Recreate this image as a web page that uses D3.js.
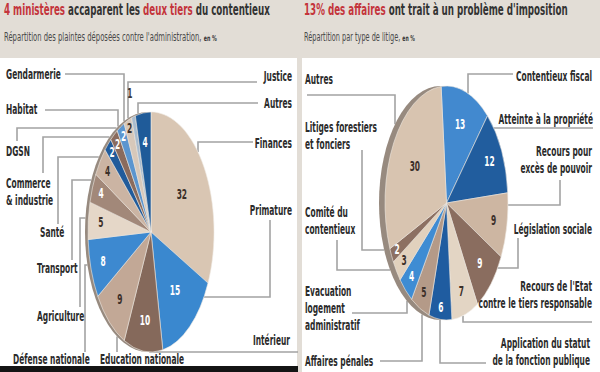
<!DOCTYPE html>
<html>
  <head>
    <meta charset="utf-8" />
    <title>Contentieux administratif</title>
    <script src="https://d3js.org/d3.v7.min.js"></script>
    <style>
      body { margin: 0; background: #fff; }
      svg text { font-family: "Liberation Sans Narrow", "DejaVu Sans Condensed", sans-serif; font-weight: bold; }
    </style>
  </head>
  <body>
    <svg id="chart" width="600" height="372"></svg>

    <script>
      // ---- data (clockwise from 12 o'clock) ----
      var leftCategories = ["Finances", "Primature", "Intérieur", "Education nationale", "Défense nationale",
        "Agriculture", "Transport", "Santé", "Commerce|& industrie", "DGSN", "Habitat", "Gendarmerie",
        "Justice", "Autres"];
      var leftValues = [32, 15, 10, 9, 8, 5, 4, 4, 2, 2, 2, 2, 1, 4];

      var rightCategories = ["Contentieux fiscal", "Atteinte à la propriété", "Recours pour|excès de pouvoir",
        "Législation sociale", "Recours de l'Etat|contre le tiers responsable",
        "Application du statut|de la fonction publique", "Affaires pénales",
        "Evacuation|logement|administratif", "Comité du|contentieux", "Litiges forestiers|et fonciers", "Autres"];
      var rightValues = [13, 12, 9, 9, 7, 6, 5, 4, 3, 2, 30];

      // ---- colours ----
      var leftColors = ["#d9c6b3", "#3a88cf", "#85695b", "#c2a896", "#3d89d0", "#e5d7c8", "#a28879",
        "#cbb4a3", "#215b9b", "#8a6b5d", "#5b95cf", "#d7c8ba", "#a9bccf", "#1f5b99"];
      var rightColors = ["#4289cf", "#215d9e", "#cdb6a2", "#8a6d5f", "#e3d5c4", "#1f5ca0", "#b49a88",
        "#3e8cd3", "#e1d1bd", "#8c7062", "#d8c4b0"];

      // ---- layout ----
      var leftPie = { cx: 151, cy: 232, rx: 63, ry: 120, rim: 3, start: 0 };
      var rightPie = { cx: 446.5, cy: 203, rx: 61.5, ry: 117, rim: 6, start: -5 };

      // radius factor for the value inside each slice
      var leftValuePos = [0.58, 0.62, 0.75, 0.75, 0.8, 0.8, 0.85, 0.85, 0.9, 0.9, 0.9, 0.92, 1.2, 0.75];
      var rightValuePos = [0.7, 0.78, 0.78, 0.75, 0.8, 0.9, 0.85, 0.85, 0.85, 0.9, 0.6];

      var leftLabels = [
        { x: 292, y: 148, a: "end", lead: { x: 253, y: 142, type: "hv", to: 198 } },
        { x: 292, y: 215, a: "end", lead: { x: 270, y: 220, type: "vh", to: 297 } },
        { x: 290, y: 345, a: "end", lead: { x: 298, y: 352, type: "hv", to: 150 } },
        { x: 100, y: 364, a: "start", lead: { x: 117, y: 352, type: "v" } },
        { x: 13, y: 364, a: "start", lead: { x: 85, y: 352, type: "vh", to: 265 } },
        { x: 37, y: 321, a: "start", lead: { x: 80, y: 307, type: "vh", to: 218 } },
        { x: 37, y: 273, a: "start", lead: { x: 72, y: 260, type: "vh", to: 180 } },
        { x: 40, y: 237, a: "start", lead: { x: 58, y: 224, type: "vh", to: 157 } },
        { x: 6, y: 188, a: "start", lead: { x: 43, y: 173, type: "vh", to: 137 } },
        { x: 6, y: 156, a: "start", lead: { x: 17, y: 141, type: "vh", to: 128 } },
        { x: 6, y: 114, a: "start", lead: { x: 45, y: 110, type: "hv", to: 118 } },
        { x: 6, y: 79, a: "start", lead: { x: 65, y: 74, type: "hv", to: 124 } },
        { x: 292, y: 81, a: "end", lead: { x: 257, y: 82, type: "hv", to: 128 } },
        { x: 292, y: 108, a: "end", lead: { x: 258, y: 103, type: "hv", to: 138 } }
      ];
      var rightLabels = [
        { x: 592, y: 81, a: "end", lead: { x: 513, y: 74, type: "hv", to: 468 } },
        { x: 593, y: 124, a: "end", lead: { x: 593, y: 128, type: "h" } },
        { x: 592, y: 156, a: "end", lead: { x: 560, y: 180, type: "vh", to: 205 } },
        { x: 592, y: 234, a: "end", lead: { x: 518, y: 238, type: "vh", to: 268 } },
        { x: 592, y: 291, a: "end", lead: { x: 592, y: 322, type: "hv", to: 463 } },
        { x: 590, y: 348, a: "end", lead: { x: 486, y: 363, type: "hv", to: 440 } },
        { x: 305, y: 366, a: "start", lead: { x: 380, y: 361, type: "hv", to: 422 } },
        { x: 305, y: 296, a: "start", lead: { x: 352, y: 313, type: "hv", to: 407 } },
        { x: 305, y: 217, a: "start", lead: { x: 337, y: 240, type: "vh", to: 270 } },
        { x: 305, y: 132, a: "start", lead: { x: 362, y: 150, type: "vh", to: 250 } },
        { x: 305, y: 84, a: "start", lead: { x: 307, y: 95, type: "hv", to: 395 } }
      ];

      var svg = d3.select("#chart");

      // background + panels
      svg.append("rect").attr("width", 600).attr("height", 372).attr("fill", "#e2ddd6");
      svg.append("rect").attr("x", 0).attr("y", 58).attr("width", 297).attr("height", 314).attr("fill", "#fff");
      svg.append("rect").attr("x", 302).attr("y", 58).attr("width", 298).attr("height", 314).attr("fill", "#fff");

      // the print uses a very narrow face: squeeze ours so "Contentieux fiscal" is 76px wide
      var labelSize = 13.5;
      var probe = svg.append("text").attr("font-size", labelSize).text("Contentieux fiscal");
      var squeeze = 76 / probe.node().getComputedTextLength();
      probe.remove();

      // titles, squeezed to the width they take in the print
      function title(x, y, parts, width, size) {
        var t = svg.append("text").attr("transform", "translate(" + x + "," + y + ")")
          .attr("font-size", size);
        parts.forEach(function (p) {
          t.append("tspan").text(p.t).attr("fill", p.c || "#333")
            .attr("font-size", p.s || null).attr("font-weight", p.w || null);
        });
        var len = t.node().getComputedTextLength();
        t.attr("transform", "translate(" + x + "," + y + ") scale(" + (width / len) + ",1)");
      }
      title(4, 15, [{ t: "4 ministères ", c: "#c4343b" }, { t: "accaparent les " },
        { t: "deux tiers", c: "#c4343b" }, { t: " du contentieux" }], 266, 16);
      title(304, 15, [{ t: "13% des affaires ", c: "#c4343b" }, { t: "ont trait à un problème d'imposition" }], 264, 16);
      title(4, 41, [{ t: "Répartition des plaintes déposées contre l'administration, ", c: "#4a4a4a", w: "normal" },
        { t: "en %", s: 8, c: "#333" }], 213, 11.5);
      title(304, 41, [{ t: "Répartition par type de litige, ", c: "#4a4a4a", w: "normal" },
        { t: "en %", s: 8, c: "#333" }], 111, 11.5);

      // where a straight leader meets the pie outline (rim included on the left)
      function edgeY(p, x, y0) {
        var k1 = (x - p.cx) / p.rx, k2 = (x - p.cx + p.rim) / p.rx;
        var dy = p.ry * Math.sqrt(Math.max(0, 1 - k1 * k1, 1 - k2 * k2));
        return y0 < p.cy ? p.cy - dy : p.cy + dy;
      }
      function edgeX(p, y, x0) {
        var k = (y - p.cy) / p.ry, s = Math.sqrt(Math.max(0, 1 - k * k));
        return x0 < p.cx ? p.cx - p.rim - p.rx * s : p.cx + p.rx * s;
      }
      function leaderPath(p, l) {
        if (l.type == "hv") return "M" + l.x + "," + l.y + "H" + l.to + "V" + edgeY(p, l.to, l.y);
        if (l.type == "vh") return "M" + l.x + "," + l.y + "V" + l.to + "H" + edgeX(p, l.to, l.x);
        if (l.type == "v") return "M" + l.x + "," + l.y + "V" + edgeY(p, l.x, l.y);
        return "M" + l.x + "," + l.y + "H" + edgeX(p, l.y, l.x);
      }

      function drawPie(p, cats, values, colors, valuePos, labels) {
        var R = 100;
        var pie = d3.pie().sort(null).value(function (d) { return d; })
          .startAngle(p.start * Math.PI / 180).endAngle(p.start * Math.PI / 180 + 2 * Math.PI);
        var arcs = pie(values);
        var arc = d3.arc().innerRadius(0).outerRadius(R);
        var sx = d3.scaleLinear().domain([-1, 1]).range([p.cx - p.rx, p.cx + p.rx]);
        var sy = d3.scaleLinear().domain([-1, 1]).range([p.cy - p.ry, p.cy + p.ry]);

        // leader lines
        svg.append("g").selectAll("path").data(labels).enter().append("path")
          .attr("d", function (l) { return leaderPath(p, l.lead); })
          .attr("fill", "none").attr("stroke", "#a3a3a3").attr("stroke-width", 1.6);

        // thickness of the tilted disc
        svg.append("ellipse").attr("cx", p.cx - p.rim).attr("cy", p.cy)
          .attr("rx", p.rx).attr("ry", p.ry).attr("fill", "#978a7f");

        var g = svg.append("g")
          .attr("transform", "translate(" + p.cx + "," + p.cy + ") scale(" + (p.rx / R) + "," + (p.ry / R) + ")");
        g.selectAll("path").data(arcs).enter().append("path")
          .attr("d", arc)
          .attr("fill", function (d, i) { return colors[i]; })
          .attr("stroke", "#efe9e2").attr("stroke-width", 0.6)
          .attr("vector-effect", "non-scaling-stroke");

        // values
        svg.append("g").selectAll("text").data(arcs).enter().append("text")
          .attr("transform", function (d, i) {
            var a = (d.startAngle + d.endAngle) / 2;
            return "translate(" + sx(Math.sin(a) * valuePos[i]) + "," + (sy(-Math.cos(a) * valuePos[i]) + 4) +
              ") scale(" + squeeze + ",1)";
          })
          .attr("text-anchor", "middle").attr("font-size", labelSize)
          .attr("fill", function (d, i) {
            if (valuePos[i] > 1) return "#3a3a3a";
            return d3.hsl(colors[i]).l > 0.6 ? "#3b2f29" : "#fff";
          })
          .text(function (d) { return d.data; });

        // category labels
        labels.forEach(function (l, i) {
          var t = svg.append("text")
            .attr("transform", "translate(" + l.x + "," + l.y + ") scale(" + squeeze + ",1)")
            .attr("text-anchor", l.a).attr("font-size", labelSize).attr("fill", "#2b2b2b");
          cats[i].split("|").forEach(function (line, j) {
            t.append("tspan").attr("x", 0).attr("y", j * 17).text(line);
          });
        });
      }

      drawPie(leftPie, leftCategories, leftValues, leftColors, leftValuePos, leftLabels);
      drawPie(rightPie, rightCategories, rightValues, rightColors, rightValuePos, rightLabels);

      // dark strip at the foot of the left panel
      svg.append("rect").attr("x", 0).attr("y", 366).attr("width", 298).attr("height", 6).attr("fill", "#141414");
    </script>
  </body>
</html>
